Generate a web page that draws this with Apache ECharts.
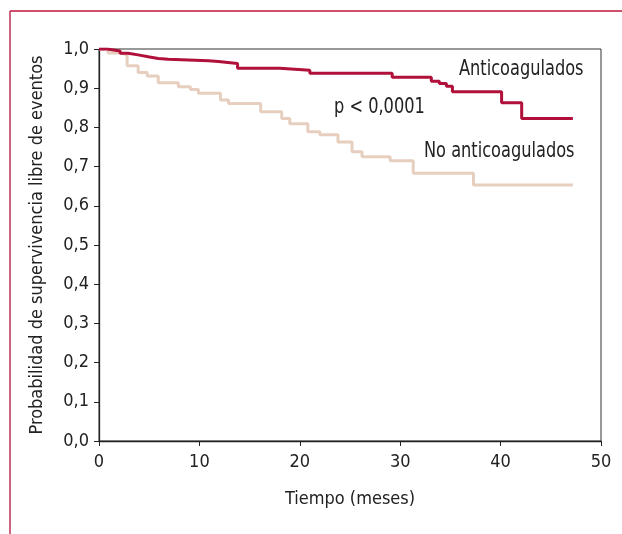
<!DOCTYPE html>
<html>
<head>
<meta charset="utf-8">
<script src="https://cdn.jsdelivr.net/npm/echarts@6/dist/echarts.min.js"></script>
<style>
  html, body { margin: 0; padding: 0; background: #fff; }
  #chart { width: 622px; height: 534px; }
</style>
</head>
<body>
<div id="chart"></div>
<script>
// curvas de Kaplan-Meier: [mes, probabilidad]
const anticoagulados = [
  [0, 1.0], [0.8, 0.995], [2.1, 0.989], [2.9, 0.985], [3.9, 0.98], [4.9, 0.976],
  [5.9, 0.974], [6.9, 0.97], [10.9, 0.968], [11.9, 0.963], [13.8, 0.951],
  [18.0, 0.946], [21.0, 0.938], [29.2, 0.928], [33.1, 0.918], [33.9, 0.912],
  [34.6, 0.905], [35.2, 0.891], [40.1, 0.863], [42.1, 0.823], [47.2, 0.823]
];
const noAnticoagulados = [
  [0, 1.0], [0.9, 0.99], [2.1, 0.985], [2.8, 0.957], [3.9, 0.94], [4.8, 0.931],
  [5.9, 0.914], [7.9, 0.904], [9.1, 0.897], [9.9, 0.887], [12.1, 0.87],
  [12.9, 0.861], [16.1, 0.84], [18.2, 0.823], [19.0, 0.809], [20.8, 0.789],
  [22.0, 0.781], [23.8, 0.763], [25.2, 0.738], [26.2, 0.725], [29.0, 0.715],
  [31.3, 0.683], [37.3, 0.653], [47.2, 0.653]
];
const etiquetas = ['Anticoagulados', 'p < 0,0001', 'No anticoagulados'];

const fuente = '"Liberation Sans Narrow", "DejaVu Sans Condensed", "Liberation Sans", sans-serif';
const chart = echarts.init(document.getElementById('chart'));

// texto de anotación, estirado en vertical para parecerse a la fuente condensada
function nota(txt, x, y) {
  return {
    type: 'text', x: x, y: y, scaleY: 1.18,
    style: { text: txt, font: '18px ' + fuente, fill: '#222', textVerticalAlign: 'top' }
  };
}

chart.setOption({
  animation: false,
  grid: { left: 99, right: 21, top: 49, bottom: 93, show: true, borderColor: '#333', borderWidth: 1 },
  xAxis: {
    type: 'value', min: 0, max: 50, interval: 10,
    name: 'Tiempo (meses)', nameLocation: 'middle', nameGap: 49,
    nameTextStyle: { fontFamily: fuente, fontSize: 18, color: '#222' },
    axisLine: { lineStyle: { color: '#222', width: 1.3 } },
    axisTick: { length: 5, lineStyle: { color: '#222' } },
    axisLabel: { fontFamily: fuente, fontSize: 18, color: '#222', margin: 12 },
    splitLine: { show: false }
  },
  yAxis: {
    type: 'value', min: 0, max: 1, interval: 0.1,
    name: 'Probabilidad de supervivencia libre de eventos', nameLocation: 'middle', nameGap: 53,
    nameTextStyle: { fontFamily: fuente, fontSize: 18, color: '#222' },
    axisLine: { show: true, lineStyle: { color: '#222', width: 1.3 } },
    axisTick: { show: true, length: 5, lineStyle: { color: '#222' } },
    axisLabel: {
      fontFamily: fuente, fontSize: 18, color: '#222', margin: 10,
      formatter: v => v.toFixed(1).replace('.', ',')
    },
    splitLine: { show: false }
  },
  series: [
    {
      name: 'No anticoagulados', type: 'line', step: 'end', data: noAnticoagulados,
      symbol: 'none', lineStyle: { color: '#e6cfbf', width: 3 }
    },
    {
      name: 'Anticoagulados', type: 'line', step: 'end', data: anticoagulados,
      symbol: 'none', lineStyle: { color: '#b0103a', width: 3 }
    }
  ],
  graphic: [
    { type: 'line', shape: { x1: 10, y1: 11, x2: 622, y2: 11 }, style: { stroke: '#c0143c', lineWidth: 1.3 } },
    { type: 'line', shape: { x1: 10, y1: 11, x2: 10, y2: 534 }, style: { stroke: '#b01440', lineWidth: 1.3 } },
    nota(etiquetas[0], 459, 59),
    nota(etiquetas[1], 334, 97),
    nota(etiquetas[2], 424, 141)
  ]
});
</script>
</body>
</html>
